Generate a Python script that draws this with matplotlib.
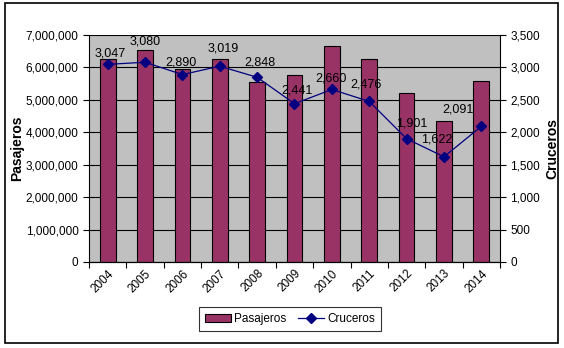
import numpy as np
import matplotlib.pyplot as plt
from matplotlib.patches import Rectangle
from matplotlib.ticker import FuncFormatter

plt.rcParams['font.family'] = ['Liberation Sans', 'DejaVu Sans']

# data
years = ['2004', '2005', '2006', '2007', '2008', '2009',
         '2010', '2011', '2012', '2013', '2014']
pasajeros = [6250000, 6530000, 5940000, 6250000, 5540000, 5760000,
             6650000, 6250000, 5200000, 4340000, 5580000]
cruceros = [3047, 3080, 2890, 3019, 2848, 2441, 2660, 2476, 1901, 1622, 2091]

# label offsets (pixels) to place the data labels like the original
label_dx = [3, 0, -1, 3, 3, 3, -1, -3, 5, -7, -23]
label_dy = [11, 21, 12, 18, 15, 13, 11, 17, 15, 17, 17]

fig = plt.figure(figsize=(5.64, 3.48), dpi=100)
fig.patches.append(Rectangle((5 / 564, 5 / 348), 553 / 564, 340 / 348,
                             transform=fig.transFigure, fill=False,
                             edgecolor='black', linewidth=1.2))

ax = fig.add_axes([89 / 564, 86 / 348, 411 / 564, 227 / 348])
ax.set_facecolor('#C0C0C0')
x = np.arange(len(years))

bars = ax.bar(x, pasajeros, width=0.42, color='#993366', edgecolor='black',
              linewidth=0.8, label='Pasajeros', zorder=2)
ax.set_xlim(-0.5, len(years) - 0.5)
ax.set_ylim(0, 7000000)
ax.set_yticks(np.arange(0, 7000001, 1000000))
ax.yaxis.set_major_formatter(FuncFormatter(lambda v, p: f'{int(v):,}'))
ax.grid(axis='y', color='black', linewidth=0.8, zorder=1)
ax.set_axisbelow(True)

# ticks between categories
ax.set_xticks(np.arange(-0.5, len(years), 1))
ax.set_xticklabels([])
ax.set_xticks(x, minor=True)
ax.set_xticklabels(years, minor=True, rotation=45, fontsize=8.5,
                   ha='right', rotation_mode='anchor')
ax.tick_params(axis='x', which='minor', length=0, pad=4)
ax.tick_params(axis='x', which='major', length=4, direction='out')
ax.tick_params(axis='y', labelsize=8.5, length=4)
ax.set_ylabel('Pasajeros', fontsize=10, fontweight='bold')
ax.yaxis.set_label_coords((24 - 89) / 411, 0.5)
for s in ['top', 'right']:
    ax.spines[s].set_visible(False)

ax2 = ax.twinx()
ax2.set_ylim(0, 3500)
ax2.set_yticks(np.arange(0, 3501, 500))
ax2.yaxis.set_major_formatter(FuncFormatter(lambda v, p: f'{int(v):,}'))
ax2.tick_params(axis='y', labelsize=8.5, length=4)
line, = ax2.plot(x, cruceros, color='#000080', marker='D', markersize=5.5,
                 linewidth=0.9, label='Cruceros')
for xi, c, dx, dy in zip(x, cruceros, label_dx, label_dy):
    ax2.annotate(f'{c:,}', (xi, c), textcoords='offset points',
                 xytext=(dx * 0.72, dy * 0.72), ha='center', va='center',
                 fontsize=9, color='black')
ax2.set_ylabel('Cruceros', fontsize=10, fontweight='bold', rotation=90)
ax2.yaxis.set_label_coords((545 - 89) / 411, 0.5)
for s in ['top', 'left']:
    ax2.spines[s].set_visible(False)

leg = fig.legend([bars, line], ['Pasajeros', 'Cruceros'], loc='center',
                 bbox_to_anchor=(290 / 564, 29 / 348), ncol=2, fontsize=8.5,
                 frameon=True, fancybox=False, edgecolor='black',
                 handlelength=2.2, handletextpad=0.3, columnspacing=1.0,
                 borderpad=0.5)
leg.get_frame().set_linewidth(0.8)

fig.savefig('out.png', dpi=100)
